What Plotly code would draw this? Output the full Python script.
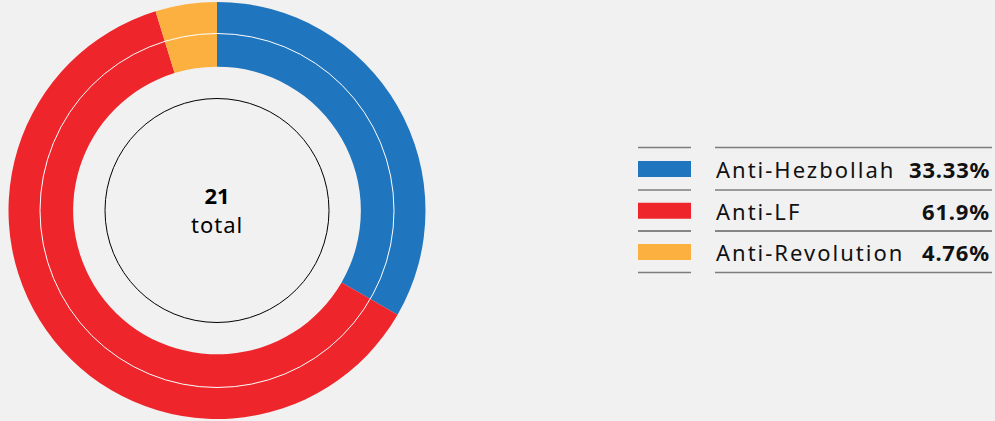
import plotly.graph_objects as go

categories = ["Anti-Hezbollah", "Anti-LF", "Anti-Revolution"]
counts = [7, 13, 1]
colors = ["#1F75BE", "#EE262B", "#FCB040"]

W, H = 995, 421
BG = "#F1F1F1"
FONT = "Noto Sans"

total = sum(counts)
pcts = [round(c / total * 100, 2) for c in counts]

def px(x):
    return x / W

def py(y):
    return 1 - y / H

cx, cy, R = 217, 210.5, 208.5

fig = go.Figure()
fig.add_trace(go.Pie(
    labels=categories,
    values=counts,
    marker=dict(colors=colors, line=dict(width=0)),
    hole=0.69,
    sort=False,
    direction="clockwise",
    rotation=0,
    textinfo="none",
    hoverinfo="label+percent",
    showlegend=False,
    domain=dict(x=[px(cx - R), px(cx + R)], y=[py(cy + R), py(cy - R)]),
))

shapes = []
rw = 177
shapes.append(dict(type="circle", xref="paper", yref="paper",
                   x0=px(cx - rw), x1=px(cx + rw), y0=py(cy + rw), y1=py(cy - rw),
                   line=dict(color="white", width=1)))
rb = 112
shapes.append(dict(type="circle", xref="paper", yref="paper",
                   x0=px(cx - rb), x1=px(cx + rb), y0=py(cy + rb), y1=py(cy - rb),
                   line=dict(color="black", width=1)))

annotations = [
    dict(text="<span style='font-size:22px'><b>" + str(total) + "</b></span><br>"
              "<span style='letter-spacing:1px'>total</span>",
         x=px(cx), y=py(209.5), xref="paper", yref="paper",
         showarrow=False, font=dict(family=FONT, size=22, color="black"),
         xanchor="center", yanchor="middle", align="center"),
]

line_ys = [147.5, 190, 231, 272.5]
row_ys = [169, 210.7, 252]
for i, ly in enumerate(line_ys):
    if i == 2:
        col, lw = "#1a1a1a", 1
    else:
        col, lw = "#7d7d7d", 1.6
    shapes.append(dict(type="line", xref="paper", yref="paper",
                       x0=px(638), x1=px(691), y0=py(ly), y1=py(ly), line=dict(color=col, width=lw)))
    shapes.append(dict(type="line", xref="paper", yref="paper",
                       x0=px(715), x1=px(992), y0=py(ly), y1=py(ly), line=dict(color=col, width=lw)))
for cat, col, pct, ry in zip(categories, colors, pcts, row_ys):
    shapes.append(dict(type="rect", xref="paper", yref="paper",
                       x0=px(638), x1=px(691), y0=py(ry + 8), y1=py(ry - 8),
                       fillcolor=col, line=dict(width=0)))
    annotations.append(dict(text="<span style='letter-spacing:2px'>" + cat + "</span>",
                            x=px(714), y=py(ry), xref="paper", yref="paper",
                            showarrow=False, xanchor="left", yanchor="middle",
                            font=dict(family=FONT, size=22, color="#111111")))
    annotations.append(dict(text="<span style='letter-spacing:0.8px'><b>" + f"{pct:g}" + "%</b></span>",
                            x=px(992), y=py(ry), xref="paper", yref="paper",
                            showarrow=False, xanchor="right", yanchor="middle",
                            font=dict(family=FONT, size=22, color="#111111")))

fig.update_layout(
    width=W, height=H,
    margin=dict(l=0, r=0, t=0, b=0),
    paper_bgcolor=BG, plot_bgcolor=BG,
    shapes=shapes, annotations=annotations,
)

fig.write_html("out.html", config={"displayModeBar": False},
               post_script="document.body.style.margin='0';document.body.style.background='%s';" % BG)
